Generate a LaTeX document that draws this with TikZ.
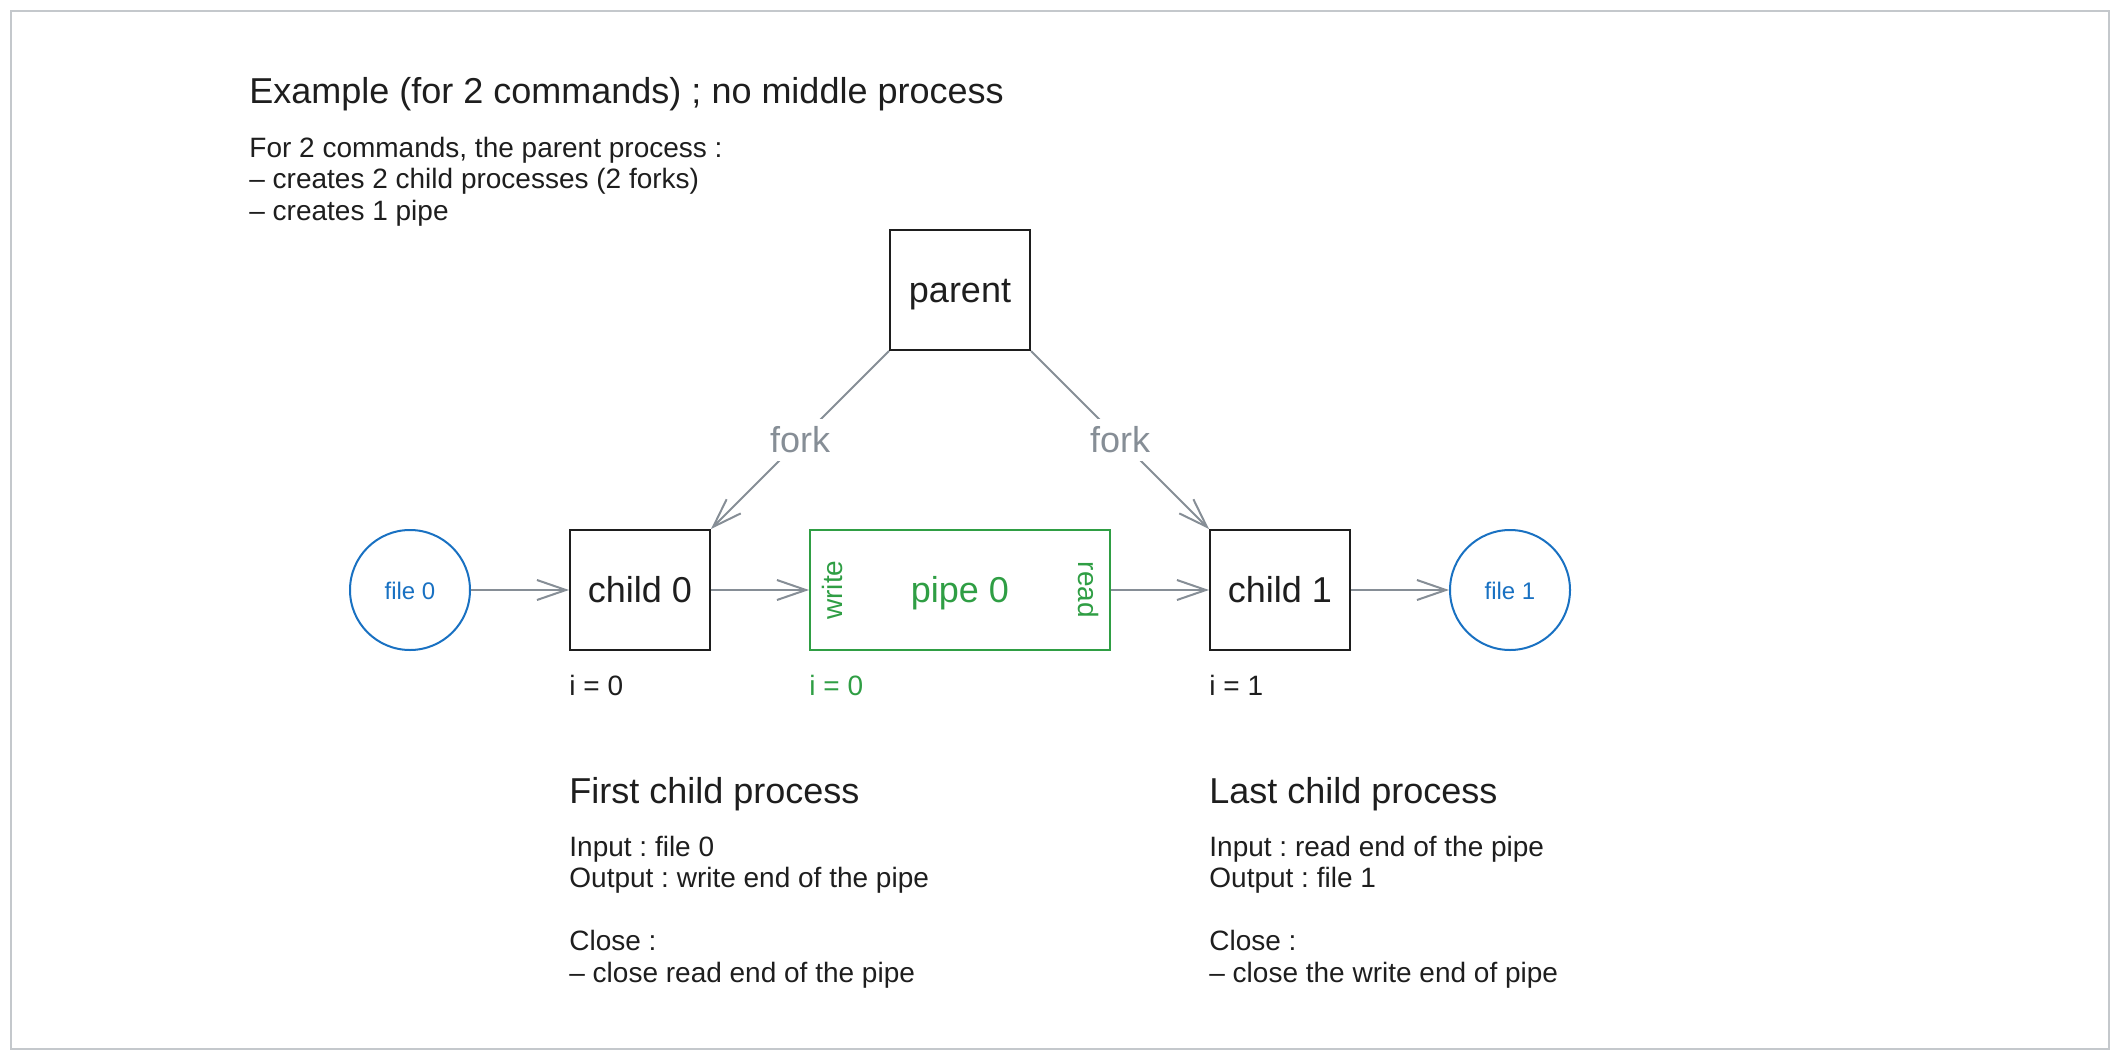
\documentclass[tikz,border=0pt]{standalone}
\usepackage{fontspec}
\setmainfont{Liberation Sans}
\usetikzlibrary{arrows.meta}
\definecolor{ink}{HTML}{1E1E1E}
\definecolor{edgegray}{HTML}{868E96}
\definecolor{fileblue}{HTML}{1971C2}
\definecolor{pipegreen}{HTML}{2F9E44}
\definecolor{framegray}{HTML}{C4C8CC}
\frenchspacing
\begin{document}
\begin{tikzpicture}[x=0.5pt,y=-0.5pt,
  bigfont/.style={font=\fontsize{18}{20}\selectfont},
  midfont/.style={font=\fontsize{14}{15.75}\selectfont},
  smallfont/.style={font=\fontsize{12}{14}\selectfont},
  proc/.style={draw=ink, line width=1pt, minimum width=70pt, minimum height=60pt,
    inner sep=0pt, text=ink, bigfont, text height=12pt, text depth=0pt},
  pipebox/.style={draw=pipegreen, line width=1pt, minimum width=150pt, minimum height=60pt,
    inner sep=0pt, text=pipegreen, bigfont, text height=12pt, text depth=0pt},
  filenode/.style={circle, draw=fileblue, line width=1pt, minimum size=60pt,
    inner sep=0pt, text=fileblue, smallfont, text height=9pt, text depth=0pt},
  endlabel/.style={text=pipegreen, midfont, anchor=base, inner sep=0pt},
  conn/.style={draw=edgegray, line width=1pt, -{Straight Barb[length=14.5pt,width=10pt]}},
  forklabel/.style={fill=white, text=edgegray, bigfont, inner sep=4.5pt,
    text height=12pt, text depth=0pt},
  txt/.style={anchor=base west, inner sep=0pt, text=ink},
]
\frenchspacing
\useasboundingbox (0,0) rectangle (2120,1060);
\draw[framegray, line width=1pt] (11,11) rectangle (2109,1049);

% title and intro
\node[txt, bigfont] (title) at (249,103) {Example (for 2 commands) ; no middle process};
\node[txt, midfont] (intro) at (249,157) {\parbox[t]{300pt}{For 2 commands, the parent process :\\
-- creates 2 child processes (2 forks)\\
-- creates 1 pipe}};

% nodes
\node[proc] (parent) at (960,290) {parent};
\node[proc] (child0) at (640,590) {child 0};
\node[pipebox] (pipe) at (960,590) {pipe 0};
\node[proc] (child1) at (1280,590) {child 1};
\node[filenode] (file0) at (410,590) {file 0};
\node[filenode] (file1) at (1510,590) {file 1};
\node[endlabel, rotate=90] (write) at (842,590) {write};
\node[endlabel, rotate=-90] (read) at (1078,590) {read};

% connectors
\draw[conn] (file0) -- (child0);
\draw[conn] (child0) -- (pipe);
\draw[conn] (pipe) -- (child1);
\draw[conn] (child1) -- (file1);
\draw[conn] (parent.south west) -- node[forklabel] (forkl) {fork} (child0.north east);
\draw[conn] (parent.south east) -- node[forklabel] (forkr) {fork} (child1.north west);

% index labels
\node[txt, midfont] (i0) at (569,695) {i = 0};
\node[txt, midfont, text=pipegreen] (ip) at (809,695) {i = 0};
\node[txt, midfont] (i1) at (1209,695) {i = 1};

% first child description
\node[txt, bigfont] (firsthead) at (569,803) {First child process};
\node[txt, midfont] (firstbody) at (569,856) {\parbox[t]{250pt}{Input : file 0\\
Output : write end of the pipe\\[15.75pt]
Close :\\
-- close read end of the pipe}};

% last child description
\node[txt, bigfont] (lasthead) at (1209,803) {Last child process};
\node[txt, midfont] (lastbody) at (1209,856) {\parbox[t]{250pt}{Input : read end of the pipe\\
Output : file 1\\[15.75pt]
Close :\\
-- close the write end of pipe}};
\end{tikzpicture}
\end{document}
